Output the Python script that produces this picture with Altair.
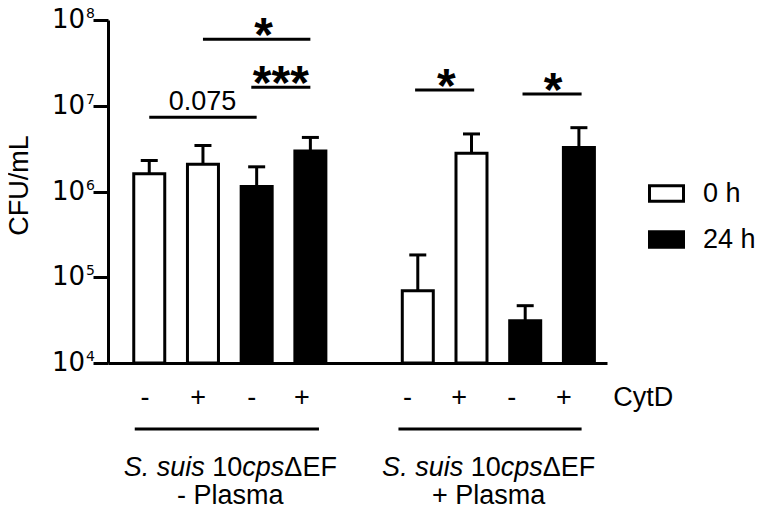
import altair as alt
import pandas as pd

# ---- data ----
slots = [0, 1, 2, 3, 5, 6, 7, 8]
cytd = ["-", "+", "-", "+", "-", "+", "-", "+"]
times = ["0 h", "0 h", "24 h", "24 h", "0 h", "0 h", "24 h", "24 h"]
cfu_mean = [1.61e6, 2.08e6, 1.14e6, 2.96e6, 6.97e4, 2.79e6, 3.11e4, 3.27e6]
cfu_upper = [2.30e6, 3.44e6, 1.94e6, 4.27e6, 1.82e5, 4.69e6, 4.66e4, 5.55e6]

tick_values = [1e4, 1e5, 1e6, 1e7, 1e8]
tick_exps = ["4", "5", "6", "7", "8"]

sig_x1 = [0, 1, 1.9, 4.95, 6.95]
sig_x2 = [2, 3, 3, 6.05, 8.05]
sig_y = [7.33e6, 5.96e7, 1.64e7, 1.53e7, 1.37e7]
sig_label = ["0.075", "*", "***", "*", "*"]
sig_label_x = [0.99, 2.13, 2.45, 5.53, 7.52]

cytd_label_x = [-0.08, 0.91, 1.91, 2.84, 4.81, 5.77, 6.75, 7.72]
cytd_title_x = [8.64]
group_x1 = [-0.27, 4.64]
group_x2 = [3.16, 8.05]
group_center = [1.51, 6.32]
group_line2 = ["- Plasma", "+ Plasma"]

FONT = "Liberation Sans"
FS = 27

bars_df = pd.DataFrame({"slot": slots, "cytd": cytd, "time": times,
                        "cfu": cfu_mean, "upper": cfu_upper})
ticks_df = pd.DataFrame({"v": tick_values, "exp": tick_exps})
sig_df = pd.DataFrame({"x1": sig_x1, "x2": sig_x2, "y": sig_y,
                       "label": sig_label, "lx": sig_label_x})
cyt_df = pd.DataFrame({"x": cytd_label_x, "label": cytd})
cyt_title_df = pd.DataFrame({"x": cytd_title_x, "label": ["CytD"]})
grp_df = pd.DataFrame({"x1": group_x1, "x2": group_x2, "c": group_center,
                       "line2": group_line2})

xscale = alt.Scale(domain=[-0.675, 8.43], nice=False, zero=False)
yscale = alt.Scale(type="log", domain=[1e4, 1e8], nice=False)

x_axis = alt.Axis(labels=False, ticks=False, title=None, grid=False,
                  domainWidth=3, domainColor="black")
y_axis = alt.Axis(values=tick_values, labels=False, tickSize=15,
                  tickWidth=3, tickColor="black", domainWidth=3,
                  domainColor="black", grid=False, title="CFU/mL",
                  titleFontSize=27, titleFontWeight="normal",
                  titleFont=FONT, titleX=-81, titleY=165,
                  titleBaseline="alphabetic", titleAngle=270)


def X(field):
    return alt.X(field, scale=xscale, axis=x_axis)


def Y(field):
    return alt.Y(field, scale=yscale, axis=y_axis)


bars = alt.Chart(bars_df).mark_bar(size=31, stroke="black", strokeWidth=3).encode(
    x=X("slot:Q"),
    y=Y("cfu:Q"),
    y2=alt.datum(1e4),
    fill=alt.Fill("time:N", scale=alt.Scale(domain=["0 h", "24 h"], range=["white", "black"]),
                  legend=alt.Legend(title=None, orient="none", legendX=540, legendY=155,
                                    symbolType="M-1,-0.45H1V0.45H-1Z", symbolSize=1156,
                                    symbolStrokeWidth=3, symbolStrokeColor="black",
                                    labelFontSize=FS, labelFont=FONT, labelOffset=18,
                                    rowPadding=13, padding=0)),
)

err_line = alt.Chart(bars_df).mark_rule(color="black", strokeWidth=3).encode(
    x=X("slot:Q"),
    y=Y("cfu:Q"),
    y2="upper:Q",
)
err_cap = alt.Chart(bars_df).mark_tick(color="black", orient="horizontal", size=17,
                                       thickness=3, opacity=1).encode(
    x=X("slot:Q"),
    y=Y("upper:Q"),
)

tick_base = alt.Chart(ticks_df).mark_text(color="black", fontSize=26, align="right",
                                          baseline="middle", font="DejaVu Sans").encode(
    x=alt.value(-23),
    y=Y("v:Q"),
    text=alt.value("10"),
)
tick_exp = alt.Chart(ticks_df).mark_text(color="black", fontSize=14, align="left",
                                         baseline="alphabetic", dy=-2,
                                         font="DejaVu Sans").encode(
    x=alt.value(-22),
    y=Y("v:Q"),
    text="exp:N",
)

sig_lines = alt.Chart(sig_df).mark_rule(color="black", strokeWidth=3).encode(
    x=X("x1:Q"),
    x2="x2:Q",
    y=Y("y:Q"),
)
sig_p = alt.Chart(sig_df).transform_filter("datum.label != '*' && datum.label != '***'").mark_text(
    color="black", fontSize=FS, baseline="alphabetic", dy=-7, font=FONT).encode(
    x=X("lx:Q"),
    y=Y("y:Q"),
    text="label:N",
)
sig_star = alt.Chart(sig_df).transform_filter("datum.label == '*' || datum.label == '***'").mark_text(
    color="black", fontSize=48, fontWeight="bold", baseline="alphabetic", dy=12, font=FONT).encode(
    x=X("lx:Q"),
    y=Y("y:Q"),
    text="label:N",
)

cyt_text = alt.Chart(cyt_df).mark_text(color="black", fontSize=FS, baseline="middle",
                                       font=FONT).encode(
    x=X("x:Q"),
    y=alt.value(378),
    text="label:N",
)
cyt_title = alt.Chart(cyt_title_df).mark_text(color="black", fontSize=FS, baseline="middle",
                                              align="left", font=FONT).encode(
    x=X("x:Q"),
    y=alt.value(378),
    text="label:N",
)

grp_lines = alt.Chart(grp_df).mark_rule(color="black", strokeWidth=3).encode(
    x=X("x1:Q"),
    x2="x2:Q",
    y=alt.value(409),
)

# first line of group labels: mixed italic / normal segments
segments = [("S. suis ", "italic", 3.279), ("10", "normal", 1.112),
            ("cps", "italic", 1.556), ("\u0394EF", "normal", 1.946)]
total_w = sum(s[2] for s in segments) * FS
offset = -total_w / 2
seg_layers = []
for txt, style, w in segments:
    seg_layers.append(
        alt.Chart(grp_df).mark_text(color="black", fontSize=FS, fontStyle=style,
                                    align="left", baseline="alphabetic", dx=offset,
                                    font=FONT).encode(
            x=X("c:Q"),
            y=alt.value(456),
            text=alt.value(txt),
        )
    )
    offset += w * FS

grp_line2 = alt.Chart(grp_df).mark_text(color="black", fontSize=FS, baseline="alphabetic",
                                        font=FONT).encode(
    x=X("c:Q"),
    y=alt.value(484),
    text="line2:N",
)

chart = alt.layer(
    bars, err_line, err_cap, tick_base, tick_exp, sig_lines, sig_p, sig_star,
    cyt_text, cyt_title, grp_lines, *seg_layers, grp_line2,
).properties(
    width=499, height=343,
    autosize=alt.AutoSizeParams(type="none"),
    padding={"left": 100, "top": 12, "right": 149, "bottom": 147},
).configure(font=FONT).configure_view(stroke=None)

chart.save("out.html", embed_options={"renderer": "svg", "actions": False})
